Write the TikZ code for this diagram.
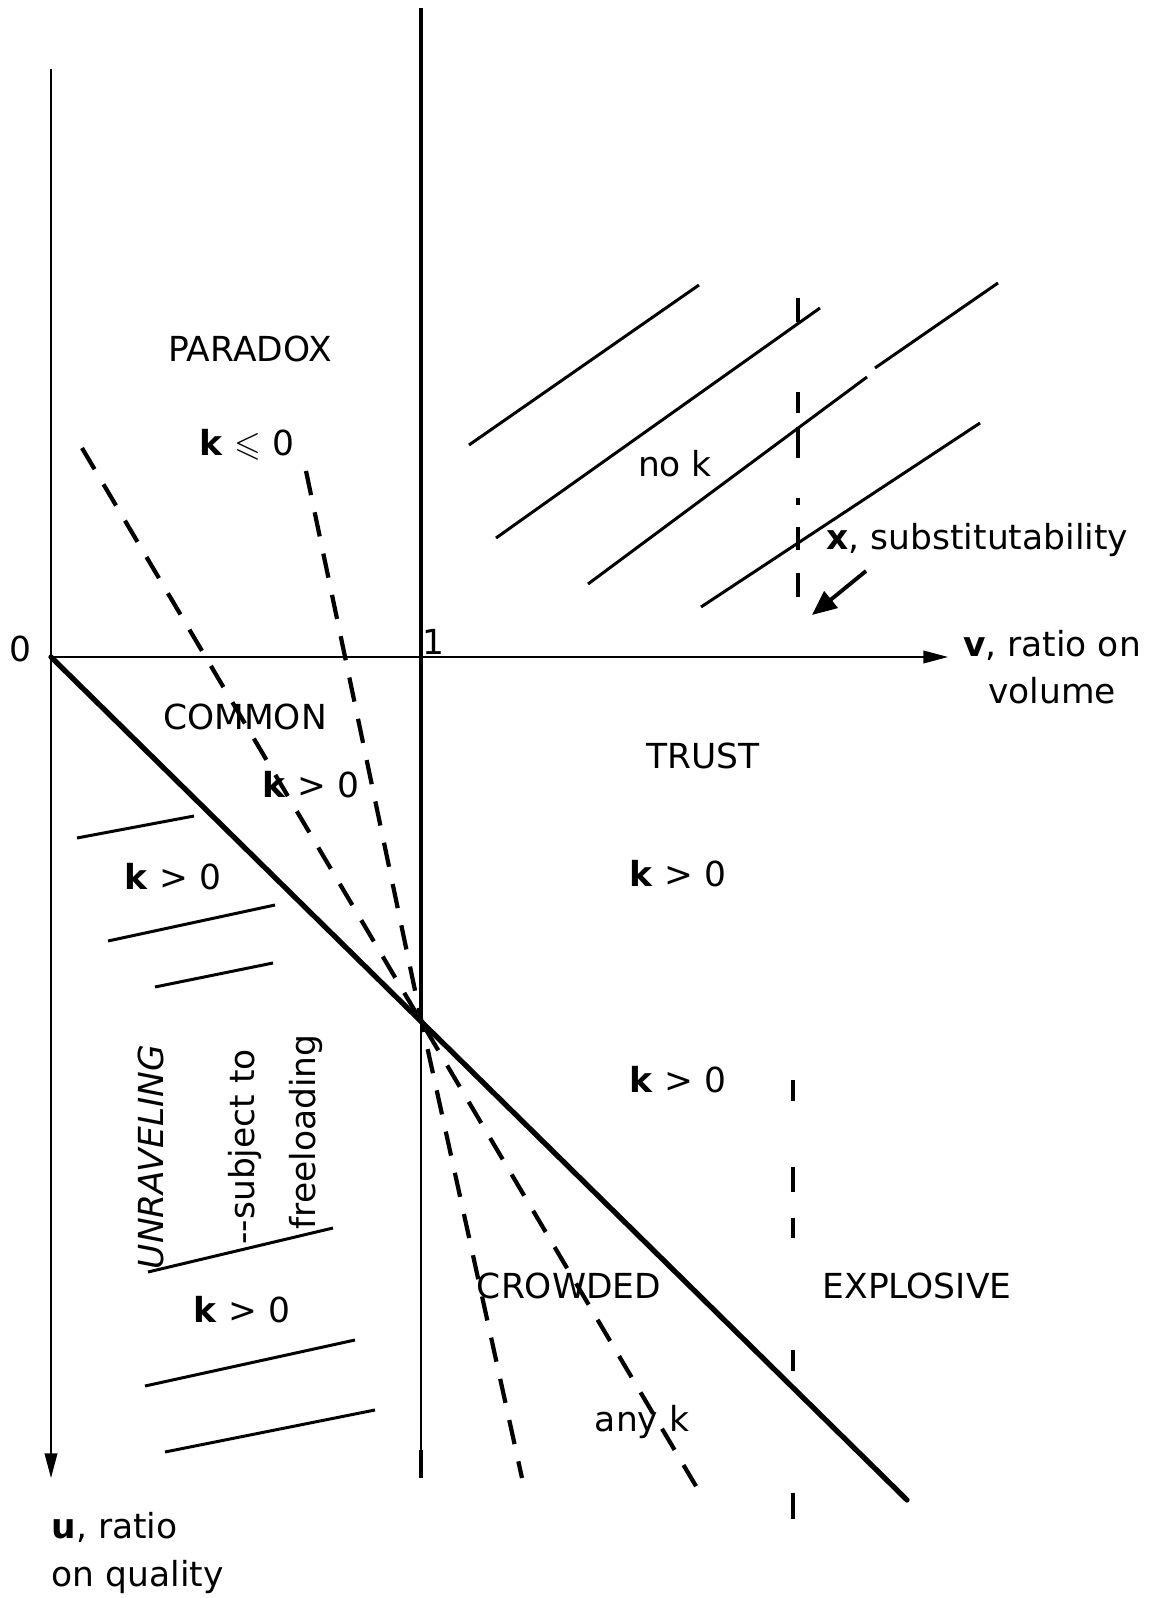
\documentclass[tikz,border=0pt]{standalone}
\usepackage{amsmath, amssymb}
\usepackage{fontspec}
\setmainfont{DejaVu Sans}
\usepackage{tikz}
\usetikzlibrary{arrows.meta, calc}
\tikzset{
  axis line/.style={
    line width=0.45pt,
    -{Triangle[length=7pt, width=3.6pt]}
  },
  border line/.style={line width=1.5pt, line cap=round},
  unit line/.style={line width=0.9pt},
  thin line/.style={line width=0.45pt},
  ray line/.style={line width=1.2pt, dash pattern=on 7pt off 5pt},
  hatch line/.style={line width=0.85pt},
  region label/.style={
    font=\fontsize{9.8}{13.4}\selectfont,
    inner sep=0pt, align=center
  },
  cond label/.style={region label},
  x arrow/.style={line width=1.1pt, -{Triangle[length=7pt, width=6pt]}}
}

\begin{document}
\begin{tikzpicture}[x=0.01cm, y=-0.01cm]
  \useasboundingbox (0,0) rectangle (1167,1598);

  % Key points
  \coordinate (O) at (51,657);
  \coordinate (utop) at (51,69);
  \coordinate (uend) at (51,1478);
  \coordinate (vend) at (948,657);
  \coordinate (itop) at (421,8);
  \coordinate (P) at (421,1019);
  \coordinate (ibot) at (421,1478);
  \coordinate (ibotdash) at (421,1450);
  \coordinate (dend) at (907,1500);
  \coordinate (a1) at (82,448);
  \coordinate (a2) at (703,1498);
  \coordinate (b1) at (306,471);
  \coordinate (b2) at (522,1478);
  \coordinate (xtop) at (798,298);
  \coordinate (xmid) at (798,597);
  \coordinate (xlow) at (793,1080);
  \coordinate (xbot) at (793,1519);

  % Axes
  \draw[axis line] (utop) -- (uend);
  \draw[axis line] (O) -- (vend);
  \draw[unit line] (itop) -- (P);
  \draw[thin line] (P) -- (ibot);
  \draw[unit line] (ibotdash) -- (ibot);

  % Boundaries
  \draw[border line] (O) -- (dend);
  \draw[ray line] (a1) -- (a2);
  \draw[ray line] (b1) -- (P) -- (b2);
  \draw[line width=1.2pt, dash pattern=on 0.24cm off 0.70cm on 0.21cm off 0.14cm
    on 0.31cm off 0.40cm on 0.07cm off 0.22cm on 0.23cm off 0.23cm on 0.24cm] (xtop) -- (xmid);
  \draw[line width=1.2pt, dash pattern=on 0.21cm off 0.66cm on 0.25cm off 0.26cm
    on 0.20cm off 1.12cm on 0.21cm off 1.22cm on 0.26cm] (xlow) -- (xbot);

  % Hatching, no k
  \draw[hatch line] (469,445) -- (699,285);
  \draw[hatch line] (496,538) -- (820,308);
  \draw[hatch line] (588,584) -- (867,377);
  \draw[hatch line] (875,368) -- (998,283);
  \draw[hatch line] (701,607) -- (980,423);

  % Hatching, unraveling
  \draw[hatch line] (77,838) -- (194,816);
  \draw[hatch line] (108,941) -- (275,905);
  \draw[hatch line] (155,987) -- (273,963);
  \draw[hatch line] (148,1272) -- (333,1228);
  \draw[hatch line] (145,1386) -- (355,1340);
  \draw[hatch line] (165,1452) -- (375,1410);

  % Axis labels
  \node[region label] (zero) at (20,649) {0};
  \node[region label] (one) at (433,642) {1};
  \node[region label] (vlabel) at (1052,667) {\textbf{v}, ratio on\\volume};
  \node[region label, anchor=west, align=left] (ulabel) at (51,1553) {\textbf{u}, ratio\\on quality};
  \node[region label, anchor=west] (xlabel) at (826,540) {\textbf{x}, substitutability};
  \coordinate (xfrom) at (866,571);
  \coordinate (xto) at (812,615);
  \draw[x arrow] (xfrom) -- (xto);

  % Regions
  \node[region label] (paradox) at (250,349) {PARADOX};
  \node[cond label] (kleq) at (247,445) {\textbf{k} $\leqslant$ 0};
  \node[cond label] (nok) at (675,464) {no k};
  \node[region label] (common) at (245,717) {COMMON};
  \node[cond label] (kcommon) at (311,785) {\textbf{k} > 0};
  \node[region label] (trust) at (703,756) {TRUST};
  \node[cond label] (kleft) at (173,877) {\textbf{k} > 0};
  \node[cond label] (ktrust) at (678,874) {\textbf{k} > 0};
  \node[cond label] (kexpl) at (678,1080) {\textbf{k} > 0};
  \node[region label, rotate=90] (unravel) at (151,1157) {\textit{UNRAVELING}};
  \node[region label, rotate=90] (subject) at (245,1147) {-{}-subject to};
  \node[region label, rotate=90] (freeload) at (306,1132) {freeloading};
  \node[cond label] (klow) at (242,1310) {\textbf{k} > 0};
  \node[region label] (crowded) at (569,1286) {CROWDED};
  \node[region label] (explosive) at (917,1286) {EXPLOSIVE};
  \node[cond label] (anyk) at (642,1422) {any k};
\end{tikzpicture}
\end{document}
